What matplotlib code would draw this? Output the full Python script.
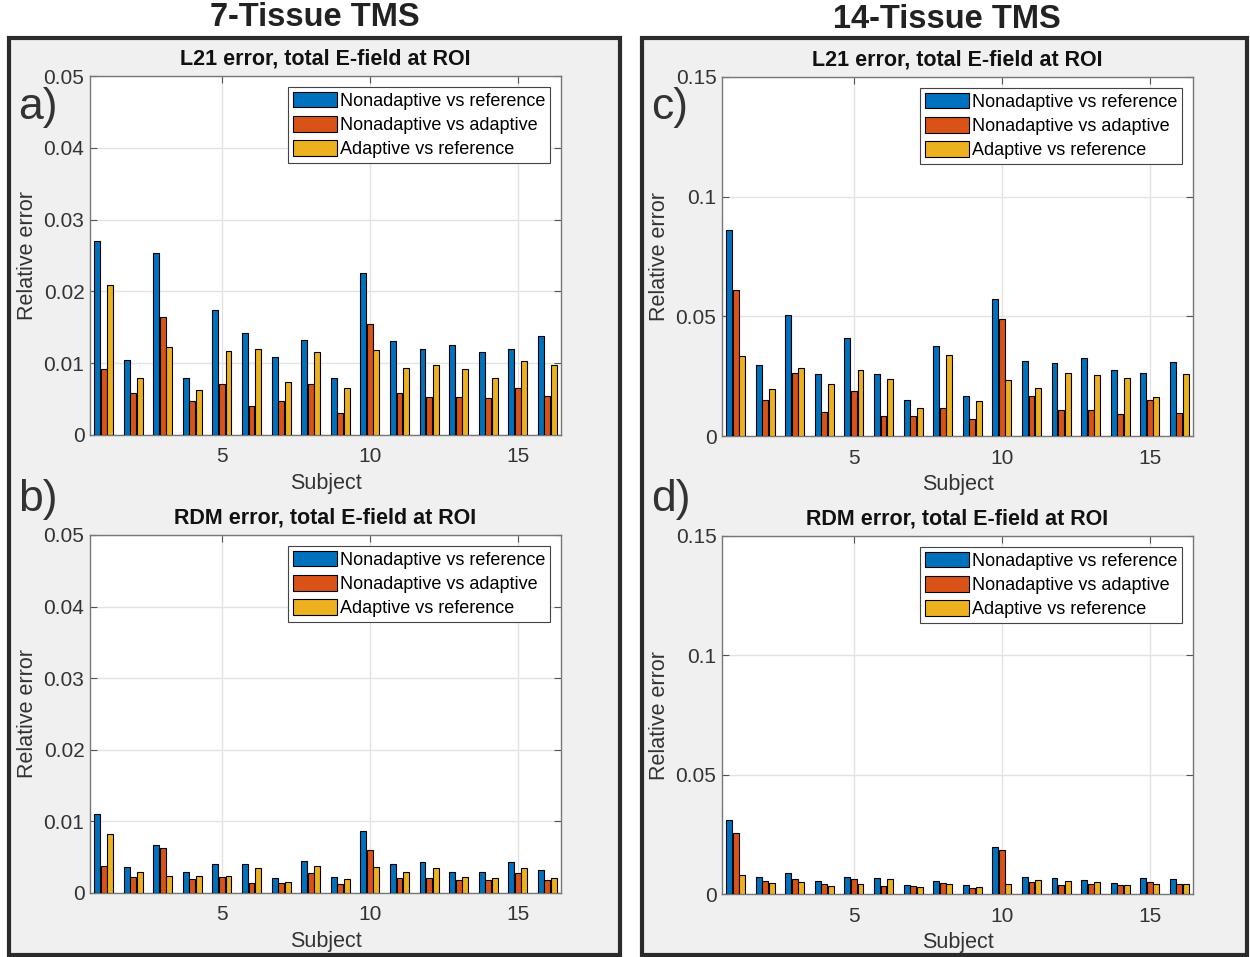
import numpy as np
import matplotlib.pyplot as plt
from matplotlib.patches import Rectangle

subjects = np.arange(1, 17)
series_names = ["Nonadaptive vs reference", "Nonadaptive vs adaptive", "Adaptive vs reference"]
colors = ["#0072BD", "#D95319", "#EDB120"]

# 7-tissue, L21 error
a_nonadapt_ref = [0.0270, 0.0104, 0.0254, 0.0080, 0.0174, 0.0142, 0.0108, 0.0132,
                  0.0079, 0.0226, 0.0131, 0.0120, 0.0126, 0.0115, 0.0120, 0.0138]
a_nonadapt_adapt = [0.0092, 0.0059, 0.0165, 0.0048, 0.0071, 0.0040, 0.0048, 0.0071,
                    0.0031, 0.0154, 0.0059, 0.0053, 0.0053, 0.0051, 0.0065, 0.0054]
a_adapt_ref = [0.0209, 0.0079, 0.0123, 0.0063, 0.0117, 0.0120, 0.0074, 0.0115,
               0.0065, 0.0119, 0.0094, 0.0097, 0.0092, 0.0080, 0.0103, 0.0097]

# 7-tissue, RDM error
b_nonadapt_ref = [0.0110, 0.0037, 0.0067, 0.0029, 0.0040, 0.0041, 0.0021, 0.0044,
                  0.0023, 0.0087, 0.0041, 0.0043, 0.0030, 0.0030, 0.0043, 0.0032]
b_nonadapt_adapt = [0.0038, 0.0023, 0.0063, 0.0020, 0.0023, 0.0014, 0.0014, 0.0028,
                    0.0012, 0.0060, 0.0021, 0.0021, 0.0018, 0.0018, 0.0028, 0.0018]
b_adapt_ref = [0.0083, 0.0029, 0.0024, 0.0024, 0.0024, 0.0035, 0.0015, 0.0038,
               0.0020, 0.0037, 0.0030, 0.0035, 0.0023, 0.0021, 0.0035, 0.0021]

# 14-tissue, L21 error
c_nonadapt_ref = [0.0861, 0.0298, 0.0504, 0.0258, 0.0408, 0.0258, 0.0151, 0.0377,
                  0.0169, 0.0573, 0.0315, 0.0303, 0.0324, 0.0275, 0.0265, 0.0311]
c_nonadapt_adapt = [0.0609, 0.0151, 0.0265, 0.0101, 0.0188, 0.0085, 0.0085, 0.0119,
                    0.0073, 0.0489, 0.0168, 0.0109, 0.0109, 0.0091, 0.0150, 0.0095]
c_adapt_ref = [0.0336, 0.0196, 0.0284, 0.0216, 0.0275, 0.0238, 0.0119, 0.0339,
               0.0146, 0.0232, 0.0200, 0.0265, 0.0256, 0.0241, 0.0162, 0.0261]

# 14-tissue, RDM error
d_nonadapt_ref = [0.0311, 0.0073, 0.0087, 0.0055, 0.0073, 0.0069, 0.0036, 0.0055,
                  0.0036, 0.0196, 0.0073, 0.0069, 0.0060, 0.0046, 0.0069, 0.0064]
d_nonadapt_adapt = [0.0256, 0.0055, 0.0063, 0.0041, 0.0063, 0.0035, 0.0032, 0.0046,
                    0.0027, 0.0186, 0.0050, 0.0036, 0.0041, 0.0036, 0.0050, 0.0041]
d_adapt_ref = [0.0081, 0.0045, 0.0049, 0.0035, 0.0041, 0.0063, 0.0028, 0.0041,
               0.0031, 0.0041, 0.0059, 0.0055, 0.0049, 0.0036, 0.0041, 0.0041]

plt.rcParams['font.family'] = ['Liberation Sans', 'DejaVu Sans']

W, H = 1250, 957
fig = plt.figure(figsize=(12.5, 9.57), dpi=100, facecolor="white")

# gray MATLAB-style panels behind the axes
for x0, x1 in [(9, 620), (642, 1247)]:
    fig.patches.append(Rectangle((x0 / W, 2 / H), (x1 - x0) / W, (919 - 2) / H,
                                 transform=fig.transFigure, facecolor="#F0F0F0",
                                 edgecolor="#2b2b2b", linewidth=3, zorder=-5))

fig.text(315 / W, 1 - 18 / H, "7-Tissue TMS", ha="center", va="center",
         fontsize=23.5, fontweight="bold", color="#222222")
fig.text(947 / W, 1 - 19 / H, "14-Tissue TMS", ha="center", va="center",
         fontsize=23.5, fontweight="bold", color="#222222")

panels = [
    ("a)", [90, 76, 561, 435], "L21 error, total E-field at ROI",
     [a_nonadapt_ref, a_nonadapt_adapt, a_adapt_ref], 0.05, 0.01, (18, 108)),
    ("b)", [90, 535, 561, 893], "RDM error, total E-field at ROI",
     [b_nonadapt_ref, b_nonadapt_adapt, b_adapt_ref], 0.05, 0.01, (18, 500)),
    ("c)", [722, 77, 1193, 436], "L21 error, total E-field at ROI",
     [c_nonadapt_ref, c_nonadapt_adapt, c_adapt_ref], 0.15, 0.05, (651, 108)),
    ("d)", [722, 536, 1193, 894], "RDM error, total E-field at ROI",
     [d_nonadapt_ref, d_nonadapt_adapt, d_adapt_ref], 0.15, 0.05, (651, 500)),
]

offsets = [-0.222, 0.0, 0.222]
bar_w = 0.2

for label, (l, t, r, b), title, series, ymax, ystep, lpos in panels:
    ax = fig.add_axes([l / W, 1 - b / H, (r - l) / W, (b - t) / H])
    ax.set_facecolor("white")
    for vals, off, col, name in zip(series, offsets, colors, series_names):
        ax.bar(subjects + off, vals, width=bar_w, color=col, edgecolor="black",
               linewidth=0.8, label=name, zorder=3)
    ax.set_xlim(0.54, 16.46)
    ax.set_ylim(0, ymax)
    ax.set_xticks([5, 10, 15])
    yt = np.arange(0, ymax + ystep / 2, ystep)
    ax.set_yticks(yt)
    ax.set_yticklabels([f"{v:g}" for v in yt])
    ax.grid(True, color="#E3E3E3", linewidth=1, zorder=0)
    ax.set_axisbelow(True)
    ax.tick_params(direction="in", length=5, width=0.8, colors="#555555",
                   labelcolor="#333333", labelsize=15, top=True, right=True)
    ax.tick_params(axis="x", pad=9)
    ax.tick_params(axis="y", pad=4)
    for sp in ax.spines.values():
        sp.set_color("#777777")
        sp.set_linewidth(1)
    ax.set_xlabel("Subject", fontsize=15.5, color="#333333", labelpad=5)
    ax.set_ylabel("Relative error", fontsize=15.5, color="#333333", labelpad=4)
    ax.set_title(title, fontsize=15.5, fontweight="bold", color="#111111", pad=8)
    leg = ax.legend(loc="upper right", fontsize=13, frameon=True, fancybox=False,
                    edgecolor="#444444", framealpha=1, borderaxespad=0.6,
                    handlelength=2.45, handleheight=0.95, handletextpad=0.15,
                    borderpad=0.28, labelspacing=0.34)
    leg.get_frame().set_linewidth(0.8)
    fig.text(lpos[0] / W, 1 - lpos[1] / H, label, ha="left", va="center",
             fontsize=32, color="#333333")

plt.savefig("out.png", dpi=100, facecolor="white")
